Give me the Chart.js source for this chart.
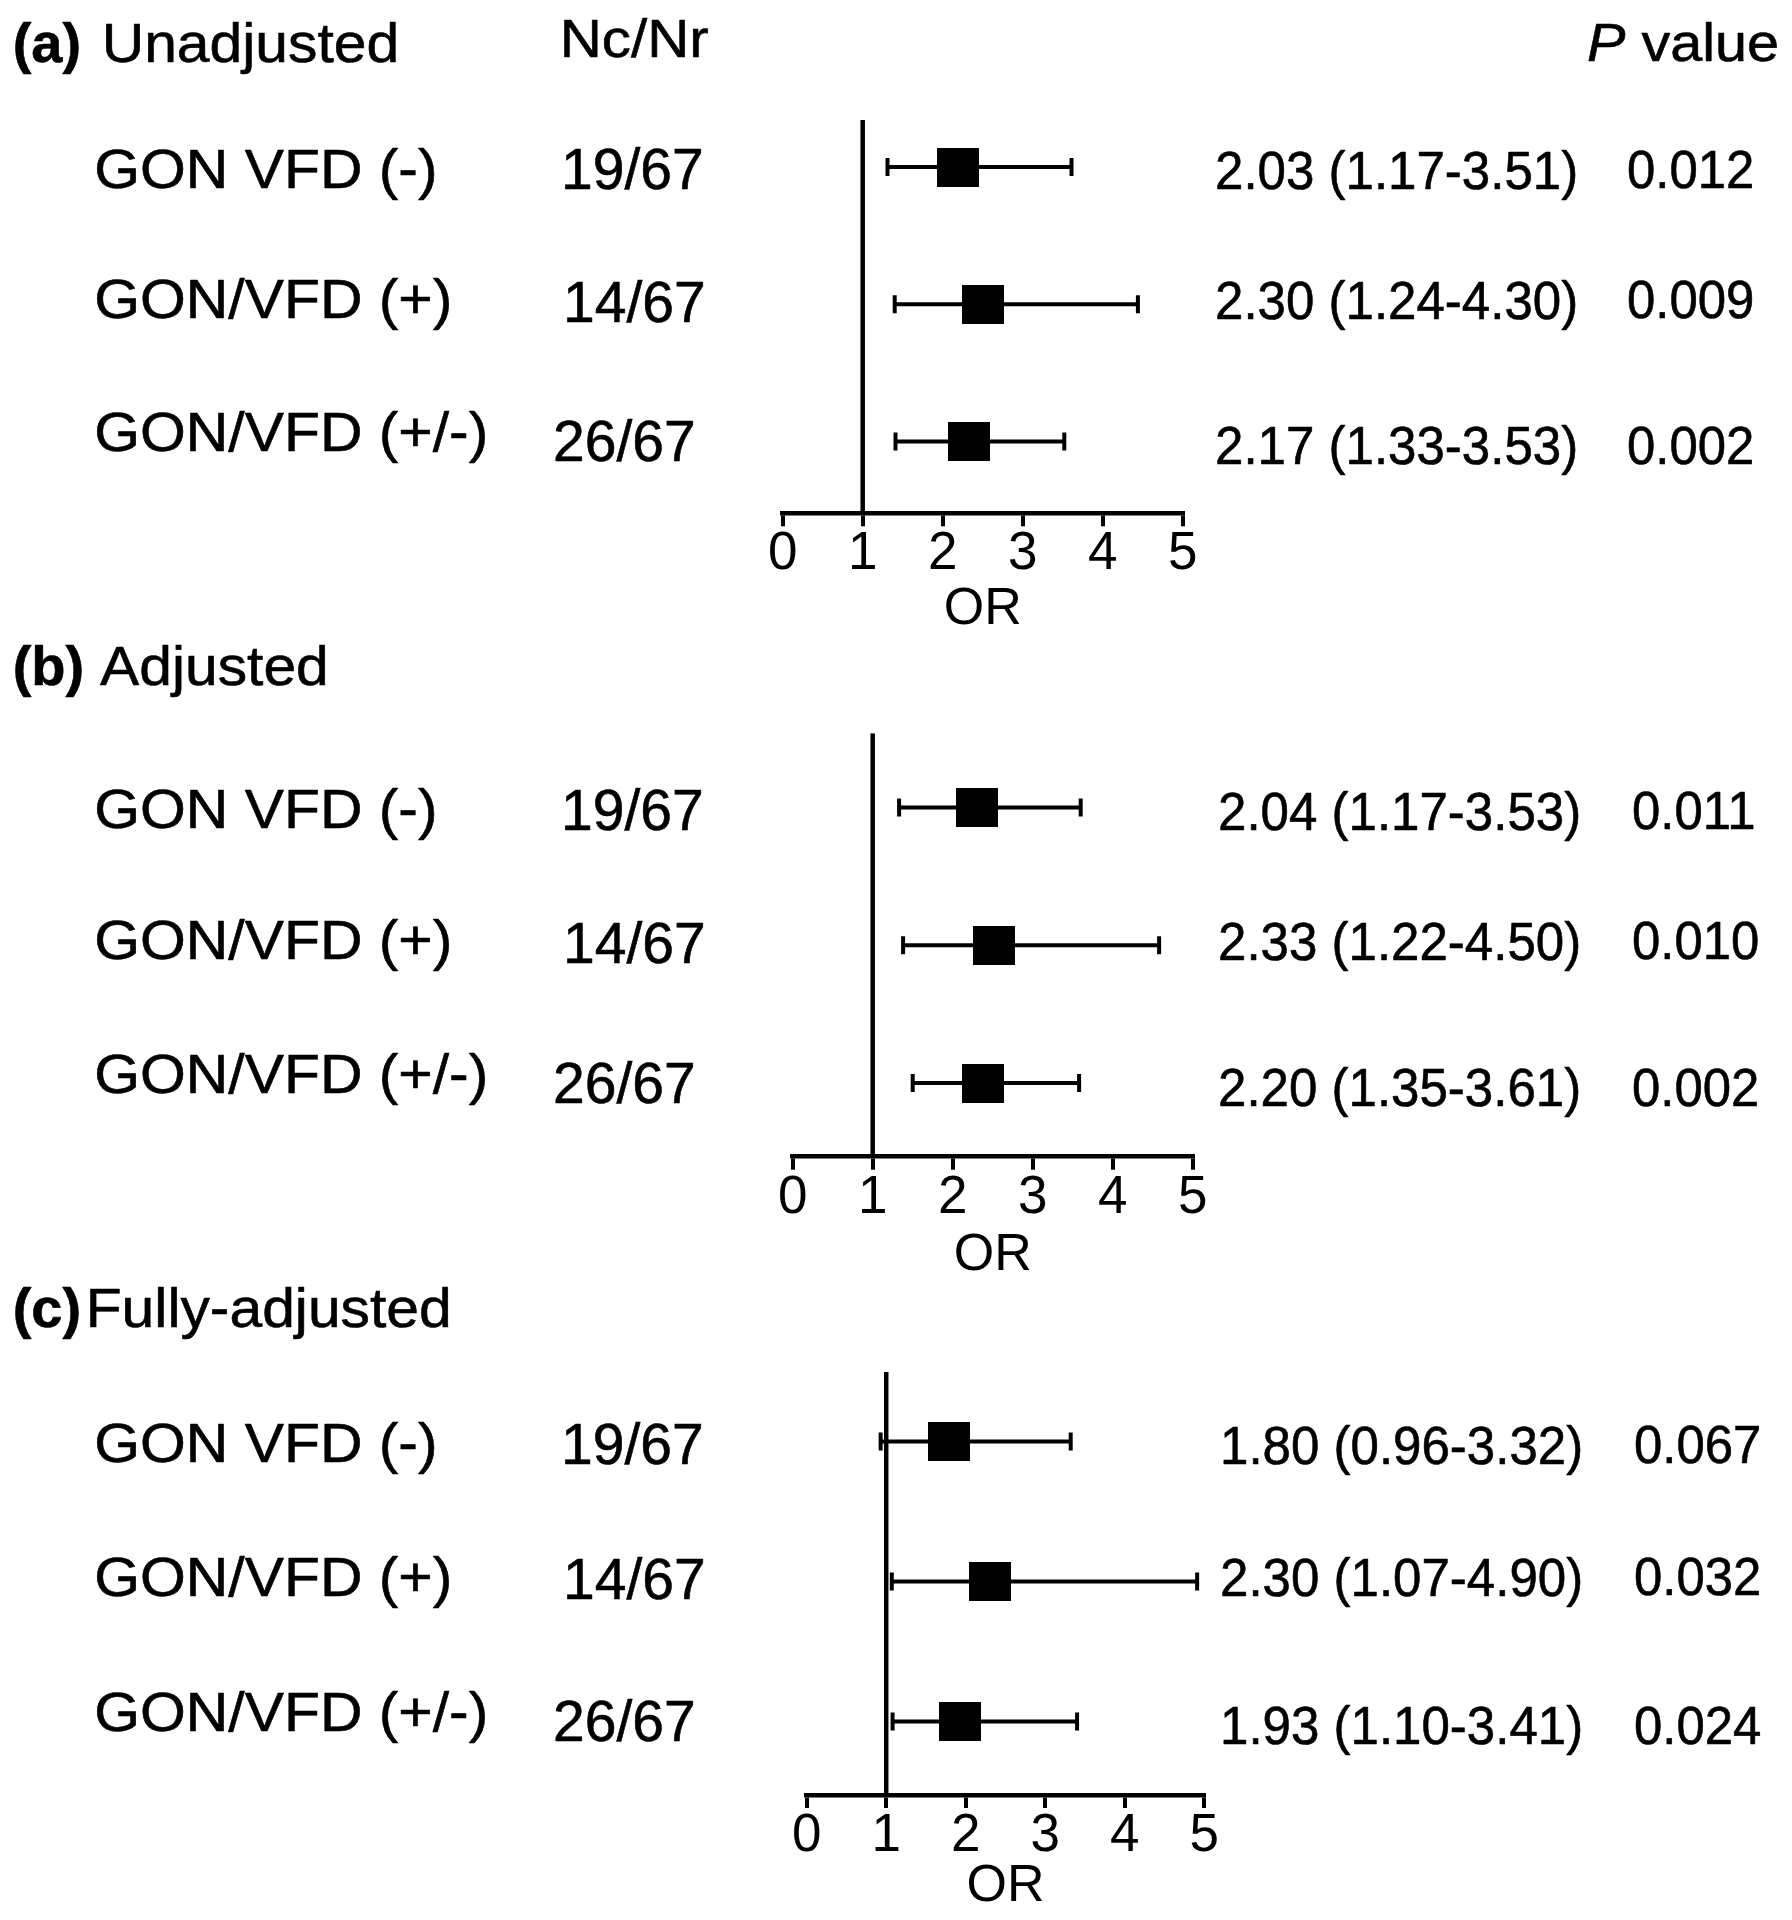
<!DOCTYPE html>
<html><head><meta charset="utf-8">
<script src="https://cdn.jsdelivr.net/npm/chart.js@4/dist/chart.umd.min.js"></script>
<style>
html,body{margin:0;padding:0;background:#fff;}
#wrap{position:relative;width:1792px;height:1920px;background:#fff;overflow:hidden}
canvas{position:absolute;left:0}
</style></head><body><div id="wrap">
<canvas id="c0" width="1792" height="640" style="top:0px"></canvas>
<canvas id="c1" width="1792" height="640" style="top:640px"></canvas>
<canvas id="c2" width="1792" height="640" style="top:1280px"></canvas>
</div>
<script>
// ---------------- data ----------------
const panelTags = ['(a)', '(b)', '(c)'];
const panelNames = ['Unadjusted', 'Adjusted', 'Fully-adjusted'];
const rowLabels = ['GON VFD (-)', 'GON/VFD (+)', 'GON/VFD (+/-)'];
const ncNr = ['19/67', '14/67', '26/67'];
const xTicks = [0, 1, 2, 3, 4, 5];
const refOR = 1;

// marker positions as drawn in the picture
const estA = [2.19, 2.50, 2.33];
const loA  = [1.31, 1.40, 1.41];
const hiA  = [3.61, 4.44, 3.52];
const estB = [2.30, 2.51, 2.38];
const loB  = [1.33, 1.38, 1.50];
const hiB  = [3.60, 4.58, 3.58];
const estC = [1.79, 2.30, 1.93];
const loC  = [0.93, 1.07, 1.08];
const hiC  = [3.32, 4.91, 3.40];

const orTextA = ['2.03 (1.17-3.51)', '2.30 (1.24-4.30)', '2.17 (1.33-3.53)'];
const orTextB = ['2.04 (1.17-3.53)', '2.33 (1.22-4.50)', '2.20 (1.35-3.61)'];
const orTextC = ['1.80 (0.96-3.32)', '2.30 (1.07-4.90)', '1.93 (1.10-3.41)'];
const pA = ['0.012', '0.009', '0.002'];
const pB = ['0.011', '0.010', '0.002'];
const pC = ['0.067', '0.032', '0.024'];

// ---------------- layout (page pixels) ----------------
const FONT = '"Liberation Sans", Arial, Helvetica, sans-serif';
Chart.defaults.font.family = FONT;
const layouts = [
  {top:0,    lineTop:120,   axisY:513.3,  row0:167,    step:137.2,  x0:782.7, x5:1182.7, orOff:96.5, titleBase:61.7, nameX:101.7, orX:1215, pX:1627},
  {top:640,  lineTop:733.3, axisY:1156.7, row0:807.4,  step:137.85, x0:792.7, x5:1192.7, orOff:98.8, titleBase:685,  nameX:100,   orX:1218, pX:1632},
  {top:1280, lineTop:1372,  axisY:1795,   row0:1441.5, step:140,    x0:806.7, x5:1204.3, orOff:92,   titleBase:1327, nameX:85.7,  orX:1220, pX:1634}
];
const labelOff = [1, -5.5, -10];
const ncOff = [2, -3, -1];
const ncX = [561, 563, 553];
const orOffY = [3.5, -4.5, 4];
const pOffY = [2.5, -5.5, 3.5];
const TICK_SIZE = 53, OR_SIZE = 52;

const panels = [
  {est:estA, lo:loA, hi:hiA, orText:orTextA, p:pA},
  {est:estB, lo:loB, hi:hiB, orText:orTextB, p:pB},
  {est:estC, lo:loC, hi:hiC, orText:orTextC, p:pC}
];

// square marker
const box = document.createElement('canvas');
box.width = 42; box.height = 39;
{ const g = box.getContext('2d'); g.fillStyle = '#000'; g.fillRect(0, 0, 42, 39); }

function txt(ctx, s, x, baseY, size, o) {
  o = o || {};
  ctx.save();
  ctx.font = (o.style || 'normal') + ' ' + (o.weight || 'normal') + ' ' + size + 'px ' + FONT;
  ctx.fillStyle = '#000';
  ctx.strokeStyle = '#000';
  ctx.lineWidth = 0.6;
  ctx.lineJoin = 'round';
  ctx.textBaseline = 'alphabetic';
  ctx.textAlign = 'left';
  const sx = o.sx || 1;
  const w = ctx.measureText(s).width * sx;
  const xx = o.align === 'right' ? x - w : x;
  ctx.translate(xx, baseY);
  ctx.scale(sx, 1);
  ctx.fillText(s, 0, 0);
  ctx.strokeText(s, 0, 0);
  ctx.restore();
  return w;
}
const capBase = (cy, size) => cy + 0.358 * size;

const textPlugin = {
  id: 'forestText',
  afterDraw(chart) {
    const idx = chart.options.plugins.forestText.idx;
    const L = layouts[idx], P = panels[idx];
    const ctx = chart.ctx;
    const off = L.top;
    // title
    txt(ctx, panelTags[idx], 12.7, L.titleBase - off, 56, {weight:'bold'});
    txt(ctx, panelNames[idx], L.nameX, L.titleBase - off, 56, {sx:1.05});
    if (idx === 0) {
      txt(ctx, 'Nc/Nr', 559.7, 57.1, 54, {sx:1.08});
      const w = txt(ctx, ' value', 1779, 60.7, 54, {sx:1.066, align:'right'});
      txt(ctx, 'P', 1779 - w, 60.7, 54, {sx:1.066, style:'italic', align:'right'});
    }
    const ys = chart.scales.y;
    for (let i = 0; i < rowLabels.length; i++) {
      const yp = ys.getPixelForValue(i);
      txt(ctx, rowLabels[i], 94.3, capBase(yp + labelOff[i], 55), 55, {sx:1.07});
      txt(ctx, ncNr[i], ncX[i], capBase(yp + ncOff[i], 57), 57);
      txt(ctx, P.orText[i], L.orX, capBase(yp + orOffY[i], 53), 53, {sx:0.963});
      txt(ctx, P.p[i], L.pX, capBase(yp + pOffY[i], 53), 53, {sx:0.96});
    }
  }
};

layouts.forEach((L, idx) => {
  const P = panels[idx];
  const canvasH = 640;
  const H = L.orOff + OR_SIZE / 2;
  const yMin = -(L.row0 - L.lineTop) / L.step;
  const yMax = yMin + (L.axisY - L.lineTop) / L.step;
  const datasets = [];
  datasets.push({
    data: P.est.map((v, i) => ({x: v, y: i})),
    pointStyle: box, pointRadius: 21, pointHoverRadius: 21,
    backgroundColor: '#000', borderColor: '#000', showLine: false
  });
  P.est.forEach((v, i) => {
    datasets.push({
      data: [{x: P.lo[i], y: i}, {x: P.hi[i], y: i}],
      showLine: true, borderColor: '#000', borderWidth: 4,
      pointStyle: 'line', pointRotation: 90, pointRadius: 9, pointHoverRadius: 9,
      pointBorderWidth: 4, pointBorderColor: '#000', pointBackgroundColor: '#000'
    });
  });
  datasets.push({
    data: [{x: refOR, y: yMin}, {x: refOR, y: yMax}],
    showLine: true, borderColor: '#000', borderWidth: 4.5, pointRadius: 0
  });
  new Chart(document.getElementById('c' + idx), {
    type: 'scatter',
    data: {datasets},
    plugins: [textPlugin],
    options: {
      responsive: false, animation: false, events: [],
      layout: {padding: {left: L.x0, right: 1792 - L.x5, top: L.lineTop - L.top,
                         bottom: canvasH - (L.axisY - L.top) - H}},
      plugins: {legend: {display: false}, tooltip: {enabled: false}, forestText: {idx}},
      scales: {
        x: {
          type: 'linear', position: 'bottom', min: 0, max: 5,
          afterFit: s => { s.height = H; },
          afterBuildTicks: s => { s.ticks = xTicks.map(v => ({value: v})); },
          border: {display: true, color: '#000', width: 4.5},
          grid: {drawOnChartArea: false, drawTicks: true, tickLength: 13, lineWidth: 4, color: '#000'},
          ticks: {color: '#000', padding: 2, autoSkip: false, maxRotation: 0,
                  font: {size: TICK_SIZE, lineHeight: 1}},
          title: {display: true, text: 'OR', color: '#000', padding: 0,
                  font: {size: OR_SIZE, lineHeight: 1}}
        },
        y: {type: 'linear', display: false, reverse: true, min: yMin, max: yMax}
      }
    }
  });
});
</script>
</body></html>
